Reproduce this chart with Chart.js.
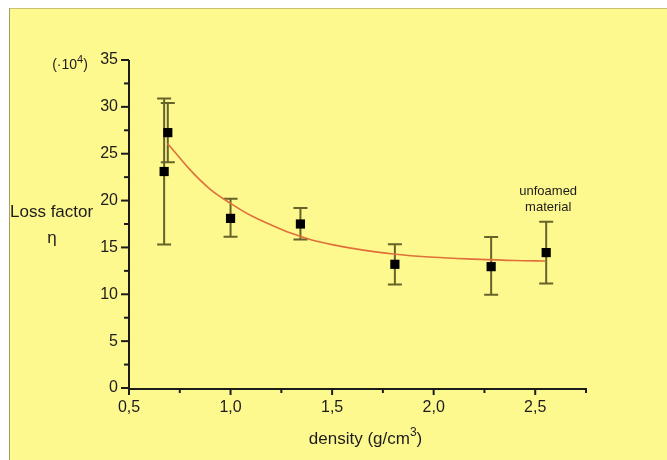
<!DOCTYPE html>
<html><head><meta charset="utf-8">
<script src="https://cdn.jsdelivr.net/npm/chart.js@4"></script>
<style>html,body{margin:0;padding:0;background:#fff}canvas{display:block}</style>
</head><body>
<canvas id="c" width="667" height="460"></canvas>
<script>
// ---- data ----
const densities   = [0.673, 0.691, 1.0, 1.344, 1.809, 2.283, 2.554];
const lossFactor  = [23.1, 27.25, 18.1, 17.5, 13.2, 12.95, 14.45];
const errHigh     = [30.9, 30.4, 20.2, 19.2, 15.35, 16.1, 17.75];
const errLow      = [15.3, 24.1, 16.15, 15.85, 11.05, 9.95, 11.15];
const fitX        = [0.69, 0.8, 0.9, 1.0, 1.1, 1.2, 1.3, 1.4, 1.5, 1.6, 1.8, 2.0, 2.2, 2.4, 2.55];
const fitY        = [26.1, 23.3, 21.2, 19.7, 18.4, 17.4, 16.5, 15.8, 15.3, 14.9, 14.3, 13.95, 13.75, 13.6, 13.55];
const xTicks      = [0.5, 1.0, 1.5, 2.0, 2.5];
const xMinorTicks = [0.75, 1.25, 1.75, 2.25, 2.75];
const yTicks      = [0, 5, 10, 15, 20, 25, 30, 35];
const yMinorTicks = [2.5, 7.5, 12.5, 17.5, 22.5, 27.5, 32.5];
const yTitle = ['Loss factor', 'η'];
const yUnit = ['(·10', '4', ')'];
const xTitle = ['density (g/cm', '3', ')'];
const note = ['unfoamed', 'material'];

const FONT = "'Liberation Sans',Arial,sans-serif";
const INK = '#1c1c1c';

const bgPlugin = {
  id: 'bg',
  beforeDraw(chart) {
    const ctx = chart.ctx;
    ctx.save();
    ctx.fillStyle = '#ffffff';
    ctx.fillRect(0, 0, chart.width, chart.height);
    ctx.fillStyle = '#fef98f';
    ctx.fillRect(9, 8, chart.width - 9, chart.height - 8);
    ctx.strokeStyle = '#c9c271';
    ctx.lineWidth = 1;
    ctx.beginPath(); ctx.moveTo(9, 8.5); ctx.lineTo(chart.width, 8.5); ctx.stroke();
    ctx.strokeStyle = '#a89a6a';
    ctx.beginPath(); ctx.moveTo(9.5, 8); ctx.lineTo(9.5, chart.height); ctx.stroke();
    ctx.restore();
  }
};

const axesPlugin = {
  id: 'axesDraw',
  beforeDatasetsDraw(chart) {
    const ctx = chart.ctx, xs = chart.scales.x, ys = chart.scales.y;
    const x0 = xs.getPixelForValue(xs.min), x1 = xs.getPixelForValue(xs.max);
    const y0 = ys.getPixelForValue(0), y1 = ys.getPixelForValue(ys.max);
    ctx.save();
    ctx.strokeStyle = INK;
    ctx.lineWidth = 2;
    ctx.beginPath();
    ctx.moveTo(x0, y1); ctx.lineTo(x0, y0 + 1); ctx.lineTo(x1, y0 + 1);
    ctx.stroke();
    yTicks.forEach(v => { const p = ys.getPixelForValue(v); ctx.beginPath(); ctx.moveTo(x0 - 8, p); ctx.lineTo(x0, p); ctx.stroke(); });
    yMinorTicks.forEach(v => { const p = ys.getPixelForValue(v); ctx.beginPath(); ctx.moveTo(x0 - 5, p); ctx.lineTo(x0, p); ctx.stroke(); });
    xTicks.forEach(v => { const p = xs.getPixelForValue(v); ctx.beginPath(); ctx.moveTo(p, y0); ctx.lineTo(p, y0 + 7); ctx.stroke(); });
    xMinorTicks.forEach(v => { const p = xs.getPixelForValue(v); ctx.beginPath(); ctx.moveTo(p, y0); ctx.lineTo(p, y0 + 5); ctx.stroke(); });

    // error bars
    ctx.strokeStyle = '#66632a';
    ctx.lineWidth = 2;
    densities.forEach((d, i) => {
      const px = xs.getPixelForValue(d);
      const ph = ys.getPixelForValue(errHigh[i]);
      const pl = ys.getPixelForValue(errLow[i]);
      ctx.beginPath();
      ctx.moveTo(px, ph); ctx.lineTo(px, pl);
      ctx.moveTo(px - 7, ph); ctx.lineTo(px + 7, ph);
      ctx.moveTo(px - 7, pl); ctx.lineTo(px + 7, pl);
      ctx.stroke();
    });
    ctx.restore();
  }
};

function drawSup(ctx, parts, cx, cy, size, supSize) {
  ctx.font = size + 'px ' + FONT;
  const w0 = ctx.measureText(parts[0]).width, w2 = ctx.measureText(parts[2]).width;
  ctx.font = supSize + 'px ' + FONT;
  const w1 = ctx.measureText(parts[1]).width;
  let x = cx - (w0 + w1 + w2) / 2;
  ctx.textAlign = 'left';
  ctx.font = size + 'px ' + FONT; ctx.fillText(parts[0], x, cy); x += w0;
  ctx.font = supSize + 'px ' + FONT; ctx.fillText(parts[1], x, cy - size * 0.35); x += w1;
  ctx.font = size + 'px ' + FONT; ctx.fillText(parts[2], x, cy);
}

const textPlugin = {
  id: 'texts',
  afterDraw(chart) {
    const ctx = chart.ctx, xs = chart.scales.x, ys = chart.scales.y, ca = chart.chartArea;
    ctx.save();
    ctx.fillStyle = INK;
    ctx.textBaseline = 'middle';
    ctx.textAlign = 'left';
    ctx.font = '17px ' + FONT;
    ctx.fillText(yTitle[0], 10, 212);
    ctx.textAlign = 'center';
    ctx.fillText(yTitle[1], 52, 238);
    drawSup(ctx, yUnit, 70, ys.getPixelForValue(ys.max) + 5, 14, 11);
    drawSup(ctx, xTitle, (ca.left + ca.right) / 2 + 8, 439, 17, 12);
    const last = densities.length - 1;
    const nx = xs.getPixelForValue(densities[last]) + 2;
    const ny = ys.getPixelForValue(errHigh[last]);
    ctx.textAlign = 'center';
    ctx.font = '13px ' + FONT;
    ctx.fillText(note[0], nx, ny - 30);
    ctx.fillText(note[1], nx, ny - 14);
    ctx.restore();
  }
};

new Chart(document.getElementById('c'), {
  type: 'scatter',
  data: {
    datasets: [
      {
        label: 'fit',
        data: fitX.map((x, i) => ({ x, y: fitY[i] })),
        showLine: true,
        borderColor: '#e0703a',
        borderWidth: 1.6,
        pointRadius: 0,
        cubicInterpolationMode: 'monotone',
        fill: false
      },
      {
        label: 'measured',
        data: densities.map((x, i) => ({ x, y: lossFactor[i] })),
        pointStyle: 'rect',
        pointRadius: 6.5,
        backgroundColor: '#000',
        borderColor: '#000',
        borderWidth: 0
      }
    ]
  },
  options: {
    responsive: false,
    animation: false,
    devicePixelRatio: 1,
    layout: { autoPadding: false, padding: { left: 0, top: 60, right: 81, bottom: 0 } },
    plugins: { legend: { display: false }, tooltip: { enabled: false } },
    scales: {
      x: {
        type: 'linear', min: 0.5, max: 2.75,
        grid: { display: false }, border: { display: false },
        afterBuildTicks: s => { s.ticks = xTicks.map(v => ({ value: v })); },
        afterFit: s => { s.height = 72; },
        ticks: {
          autoSkip: false, maxRotation: 0, padding: 2, color: INK,
          font: { family: FONT, size: 16 },
          callback: v => v.toFixed(1).replace('.', ',')
        }
      },
      y: {
        min: 0, max: 35,
        grid: { display: false }, border: { display: false },
        afterBuildTicks: s => { s.ticks = yTicks.map(v => ({ value: v })); },
        afterFit: s => { s.width = 129; },
        ticks: { padding: 3, color: INK, font: { family: FONT, size: 16 } }
      }
    }
  },
  plugins: [bgPlugin, axesPlugin, textPlugin]
});
</script>
</body></html>
